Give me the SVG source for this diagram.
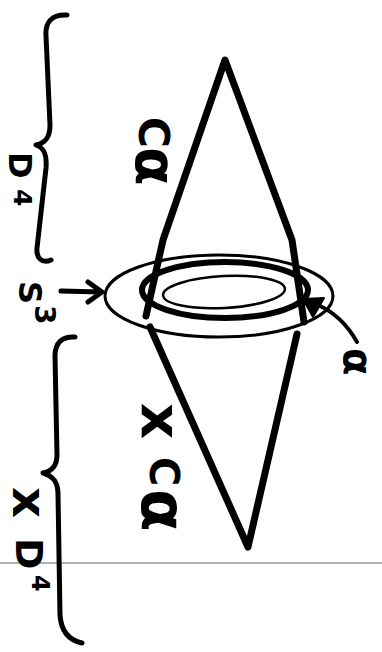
<svg xmlns="http://www.w3.org/2000/svg" width="382" height="652" viewBox="0 0 382 652">
<style>
.ink{fill:none;stroke:#000;stroke-linecap:round;stroke-linejoin:round}
.tri{stroke-width:7}
.brace{stroke-width:5}
.lbl{font-family:"DejaVu Sans","Liberation Sans",sans-serif;font-weight:bold;fill:#000}
</style>
<rect width="382" height="652" fill="#fff"/>
<line x1="0" y1="563" x2="382" y2="563" stroke="#666" stroke-width="1.2"/>

<g id="upper-cone">
<path class="ink tri" d="M146,316 L163,240 L225,60 L292,240 L304,322"/>
</g>
<g id="lower-cone">
<path class="ink tri" d="M150,327 L248,547 L297,334"/>
</g>
<g id="ellipses">
<ellipse class="ink" cx="219" cy="296" rx="114" ry="41" stroke-width="3"/>
<ellipse class="ink" cx="225" cy="290" rx="83" ry="28" stroke-width="6"/>
<ellipse class="ink" cx="224" cy="292" rx="61" ry="16" stroke-width="2.5" transform="rotate(-3 224 292)"/>
</g>
<g id="braces">
<path class="ink brace" d="M67,15 C52,14 45,22 46,36 L50,125 C50,137 46,143 36,145 C45,148 47,156 46,168 L37,248 C36,258 42,264 51,260"/>
<path class="ink brace" d="M75,337 C62,336 55,343 55,356 L57,455 C57,466 52,471 43,473 C53,476 58,482 58,494 L60,615 C61,630 68,640 82,643"/>
</g>
<g id="connectors">
<path class="ink" stroke-width="5" d="M61,291 L101,292 M88,282 L102,292 L88,302"/>
<path class="ink" stroke-width="4" d="M357,342 C348,326 336,313 318,305"/>
<path d="M303,299 L324,298 L313,317 z" fill="#000" stroke="#000" stroke-width="2" stroke-linejoin="round"/>
</g>

<g id="label-Calpha">
<text class="lbl" transform="translate(139,117) rotate(90)"><tspan x="0" y="0" font-size="42">C</tspan><tspan x="30" y="3" font-size="56">α</tspan></text>
</g>
<g id="label-D4">
<text class="lbl" transform="translate(9,152) rotate(90)"><tspan x="0" y="0" font-size="32">D</tspan><tspan x="37" y="-5" font-size="25">4</tspan></text>
</g>
<g id="label-S3">
<text class="lbl" transform="translate(19,281) rotate(90)"><tspan x="0" y="0" font-size="32">S</tspan><tspan x="24" y="-16" font-size="28">3</tspan></text>
</g>
<g id="label-alpha">
<text class="lbl" font-size="40" transform="translate(344,348) rotate(90)">α</text>
</g>
<g id="label-xCalpha">
<text class="lbl" transform="translate(142,403) rotate(90)"><tspan x="0" y="0" font-size="56">x</tspan><tspan x="54" y="-8" font-size="40">C</tspan><tspan x="86" y="0" font-size="62">α</tspan></text>
</g>
<g id="label-xD4">
<text class="lbl" transform="translate(13,487) rotate(90)"><tspan x="0" y="0" font-size="48">x</tspan><tspan x="51" y="-3" font-size="38">D</tspan><tspan x="88" y="-19" font-size="24">4</tspan></text>
</g>
</svg>
